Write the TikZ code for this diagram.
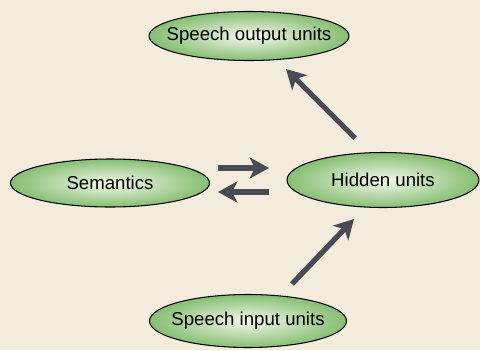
\documentclass[tikz,border=0pt]{standalone}
\usepackage{fontspec}
\setmainfont{Liberation Sans}
\usetikzlibrary{shapes.geometric,arrows.meta}

\definecolor{paper}{HTML}{F3EBDB}
\definecolor{leaf}{HTML}{86BE72}
\definecolor{leaflight}{HTML}{F4F8EC}
\definecolor{slate}{HTML}{474C54}

\tikzset{
    unit/.style={ellipse,draw=black,line width=0.6pt,inner color=leaflight,outer color=leaf,
        font=\fontsize{10.6}{12}\selectfont,inner xsep=-0.8cm,inner ysep=0pt},
    flow/.style={line width=3pt,draw=slate,-{Stealth[length=11pt,width=12pt,inset=3pt]}}
}

\begin{document}
\begin{tikzpicture}
        \fill[paper] (0,0) rectangle (9.6,7);
        \useasboundingbox (0,0) rectangle (9.6,7);
        \node[unit,minimum width=4cm,minimum height=0.98cm] (out) at (4.98,6.28) {Speech output units};
        \node[unit,minimum width=3.98cm,minimum height=0.96cm] (sem) at (2.2,3.34) {Semantics};
        \node[unit,minimum width=3.84cm,minimum height=1.1cm] (hid) at (7.66,3.4) {Hidden units};
        \node[unit,minimum width=3.94cm,minimum height=1.06cm] (inp) at (4.96,0.58) {Speech input units};
        % free arrows between the units
        \coordinate (hidtop) at (7.1,4.24);
        \coordinate (outlow) at (5.72,5.62);
        \coordinate (inptop) at (5.84,1.32);
        \coordinate (hidlow) at (7.08,2.62);
        \coordinate (semhi) at (4.36,3.64);
        \coordinate (hidhi) at (5.38,3.64);
        \coordinate (semlo) at (4.36,3.16);
        \coordinate (hidlo) at (5.38,3.16);
        \draw[flow] (hidtop) -- (outlow);
        \draw[flow] (inptop) -- (hidlow);
        \draw[flow] (semhi) -- (hidhi);
        \draw[flow] (hidlo) -- (semlo);
    \end{tikzpicture}
\end{document}
